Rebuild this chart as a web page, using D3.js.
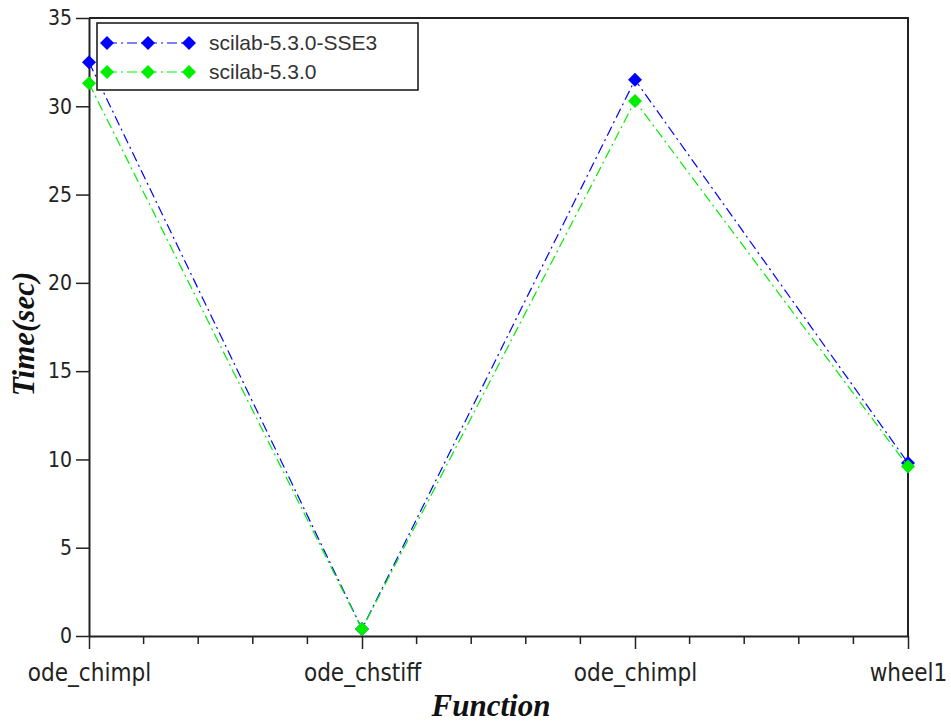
<!DOCTYPE html>
<meta charset="utf-8">
<script src="https://d3js.org/d3.v7.min.js"></script>
<style>
body { margin: 0; background: #fff; }
.tick text { font-family: "Liberation Sans Narrow", "DejaVu Sans Condensed", "Liberation Sans", sans-serif; font-size: 21px; fill: #222; }
.xax .tick text { font-size: 24px; }
.title { font-family: "Liberation Serif", serif; font-weight: bold; font-style: italic; font-size: 31px; fill: #111; }
.legend text { font-family: "Liberation Sans", Arial, sans-serif; font-size: 21px; fill: #333; }
</style>
<body>
<script>
var functions = ["ode_chimpl", "ode_chstiff", "ode_chimpl ", "wheel1"];
var sse3 = [32.5, 0.4, 31.5, 9.8];
var plain = [31.3, 0.4, 30.3, 9.6];
var yTicks = [0, 5, 10, 15, 20, 25, 30, 35];

var series = [
  {name: "scilab-5.3.0-SSE3", values: sse3, color: "#0000ff"},
  {name: "scilab-5.3.0", values: plain, color: "#00ee00"}
];

var W = 951, H = 724;
var margin = {left: 89, right: 43, top: 18, bottom: 88};

var svg = d3.select("body").append("svg")
    .attr("width", W)
    .attr("height", H);

var x = d3.scalePoint()
    .domain(functions)
    .range([margin.left, W - margin.right]);

var y = d3.scaleLinear()
    .domain([0, 35])
    .range([H - margin.bottom, margin.top]);

// minor ticks along x, 5 subdivisions between categories
var step = x.step();
var minor = [];
for (var i = 0; i < functions.length - 1; i++) {
  for (var k = 1; k < 5; k++) minor.push(x(functions[i]) + step * k / 5);
}
svg.append("g").selectAll("line")
    .data(minor)
    .enter().append("line")
    .attr("x1", function(d) { return d; })
    .attr("x2", function(d) { return d; })
    .attr("y1", y(0))
    .attr("y2", y(0) + 8)
    .attr("stroke", "#222")
    .attr("stroke-width", 1.5);

var xAxis = svg.append("g")
    .attr("class", "xax")
    .attr("transform", "translate(0," + y(0) + ")")
    .call(d3.axisBottom(x).tickSize(13).tickPadding(9).tickSizeOuter(0));
xAxis.selectAll(".tick text").text(function(d) { return d.trim(); }).attr("dy", "0.95em");

var yAxis = svg.append("g")
    .attr("transform", "translate(" + margin.left + ",0)")
    .call(d3.axisLeft(y).tickValues(yTicks).tickSize(13).tickPadding(4).tickSizeOuter(0));

svg.selectAll(".domain").attr("stroke", "#222").attr("stroke-width", 2);
svg.selectAll(".tick line").attr("stroke", "#222").attr("stroke-width", 1.5);

// top and right frame
svg.append("path")
    .attr("d", "M" + margin.left + "," + y(35) + "H" + (W - margin.right) + "V" + y(0))
    .attr("fill", "none")
    .attr("stroke", "#222")
    .attr("stroke-width", 2);

var line = d3.line()
    .x(function(d, i) { return x(functions[i]); })
    .y(function(d) { return y(d); });

var diamondPath = "M0,-7L7,0L0,7L-7,0Z";

series.forEach(function(s) {
  svg.append("path")
      .attr("d", line(s.values))
      .attr("fill", "none")
      .attr("stroke", s.color)
      .attr("stroke-width", 1.2)
      .attr("stroke-dasharray", "10,4,2,4");
  svg.append("g").selectAll("path")
      .data(s.values)
      .enter().append("path")
      .attr("d", diamondPath)
      .attr("transform", function(d, i) { return "translate(" + x(functions[i]) + "," + y(d) + ")"; })
      .attr("fill", s.color);
});

// legend
var lg = svg.append("g").attr("class", "legend");
lg.append("rect")
    .attr("x", 97).attr("y", 23)
    .attr("width", 321).attr("height", 67)
    .attr("fill", "#fff")
    .attr("stroke", "#111")
    .attr("stroke-width", 1.5);
series.forEach(function(s, i) {
  var ly = 43 + i * 29;
  lg.append("line")
      .attr("x1", 107).attr("x2", 189)
      .attr("y1", ly).attr("y2", ly)
      .attr("stroke", s.color)
      .attr("stroke-width", 1.2)
      .attr("stroke-dasharray", "10,4,2,4");
  [107, 148, 189].forEach(function(px) {
    lg.append("path")
        .attr("d", diamondPath)
        .attr("transform", "translate(" + px + "," + ly + ")")
        .attr("fill", s.color);
  });
  lg.append("text")
      .attr("x", 209).attr("y", ly + 7)
      .text(s.name);
});

// axis titles
svg.append("text")
    .attr("class", "title")
    .attr("text-anchor", "middle")
    .attr("x", 491).attr("y", 716)
    .text("Function");

svg.append("text")
    .attr("class", "title")
    .attr("text-anchor", "middle")
    .attr("transform", "translate(34,334) rotate(-90)")
    .text("Time(sec)");
</script>
</body>
